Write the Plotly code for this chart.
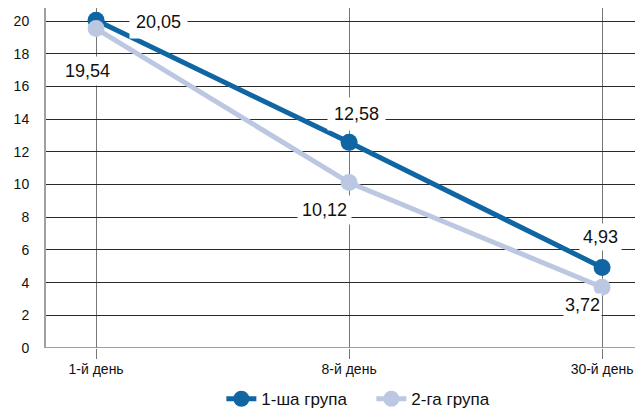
import plotly.graph_objects as go

categories = ["1-й день", "8-й день", "30-й день"]
group1 = [20.05, 12.58, 4.93]
group2 = [19.54, 10.12, 3.72]
labels1 = ["20,05", "12,58", "4,93"]
labels2 = ["19,54", "10,12", "3,72"]
names = ["1-ша група", "2-га група"]
y_ticks = [0, 2, 4, 6, 8, 10, 12, 14, 16, 18, 20]

c1 = "#0f66a3"
c2 = "#bcc8e1"
FONT = "Liberation Sans, Arial, Helvetica, sans-serif"

fig = go.Figure()
fig.add_trace(go.Scatter(x=categories, y=group1, mode="lines+markers", name=names[0],
                         line=dict(color=c1, width=5), marker=dict(size=17, color=c1)))
fig.add_trace(go.Scatter(x=categories, y=group2, mode="lines+markers", name=names[1],
                         line=dict(color=c2, width=5), marker=dict(size=17, color=c2)))

font_lab = dict(family=FONT, size=18, color="#111")
shifts1 = [(62, -2), (7, 28), (-2, 30)]
shifts2 = [(-9, -42), (-25, -27), (-20, -18)]
pads1 = [6, 6, 3]
pads2 = [4, 4, 1]
for i, cat in enumerate(categories):
    fig.add_annotation(x=cat, y=group1[i], text=labels1[i], showarrow=False,
                       xshift=shifts1[i][0], yshift=shifts1[i][1], font=font_lab,
                       bgcolor="white", borderpad=pads1[i])
    fig.add_annotation(x=cat, y=group2[i], text=labels2[i], showarrow=False,
                       xshift=shifts2[i][0], yshift=shifts2[i][1], font=font_lab,
                       bgcolor="white", borderpad=pads2[i])

# the page body has an 8px margin, so the figure is sized to the visible area
fig.update_layout(
    width=635, height=400,
    margin=dict(l=38, r=7, t=0, b=60),
    paper_bgcolor="white", plot_bgcolor="white",
    font=dict(family=FONT, size=14, color="#111"),
    showlegend=True,
    legend=dict(orientation="h", x=0.336, xanchor="left", xref="container",
                y=0.022, yanchor="middle", yref="container",
                font=dict(size=17), entrywidth=105, entrywidthmode="pixels"),
    xaxis=dict(type="category", range=[-0.198, 2.134], showgrid=True, gridcolor="#777",
               gridwidth=1, ticks="outside", ticklen=10, tickcolor="#777",
               ticklabelstandoff=-2,
               showline=False, zeroline=False, tickfont=dict(size=14), automargin=False),
    yaxis=dict(range=[0, 20.8], tickvals=y_ticks, showgrid=True, gridcolor="#2a2a2a",
               gridwidth=1, showline=True, linecolor="#a0a0a0", linewidth=2,
               zeroline=False, ticks="", ticklabelstandoff=12, tickfont=dict(size=14),
               automargin=False),
)
fig.add_shape(type="line", xref="paper", yref="y", x0=0, x1=1, y0=0, y1=0,
              line=dict(color="#a0a0a0", width=2), layer="below")

fig.write_html("out.html")
